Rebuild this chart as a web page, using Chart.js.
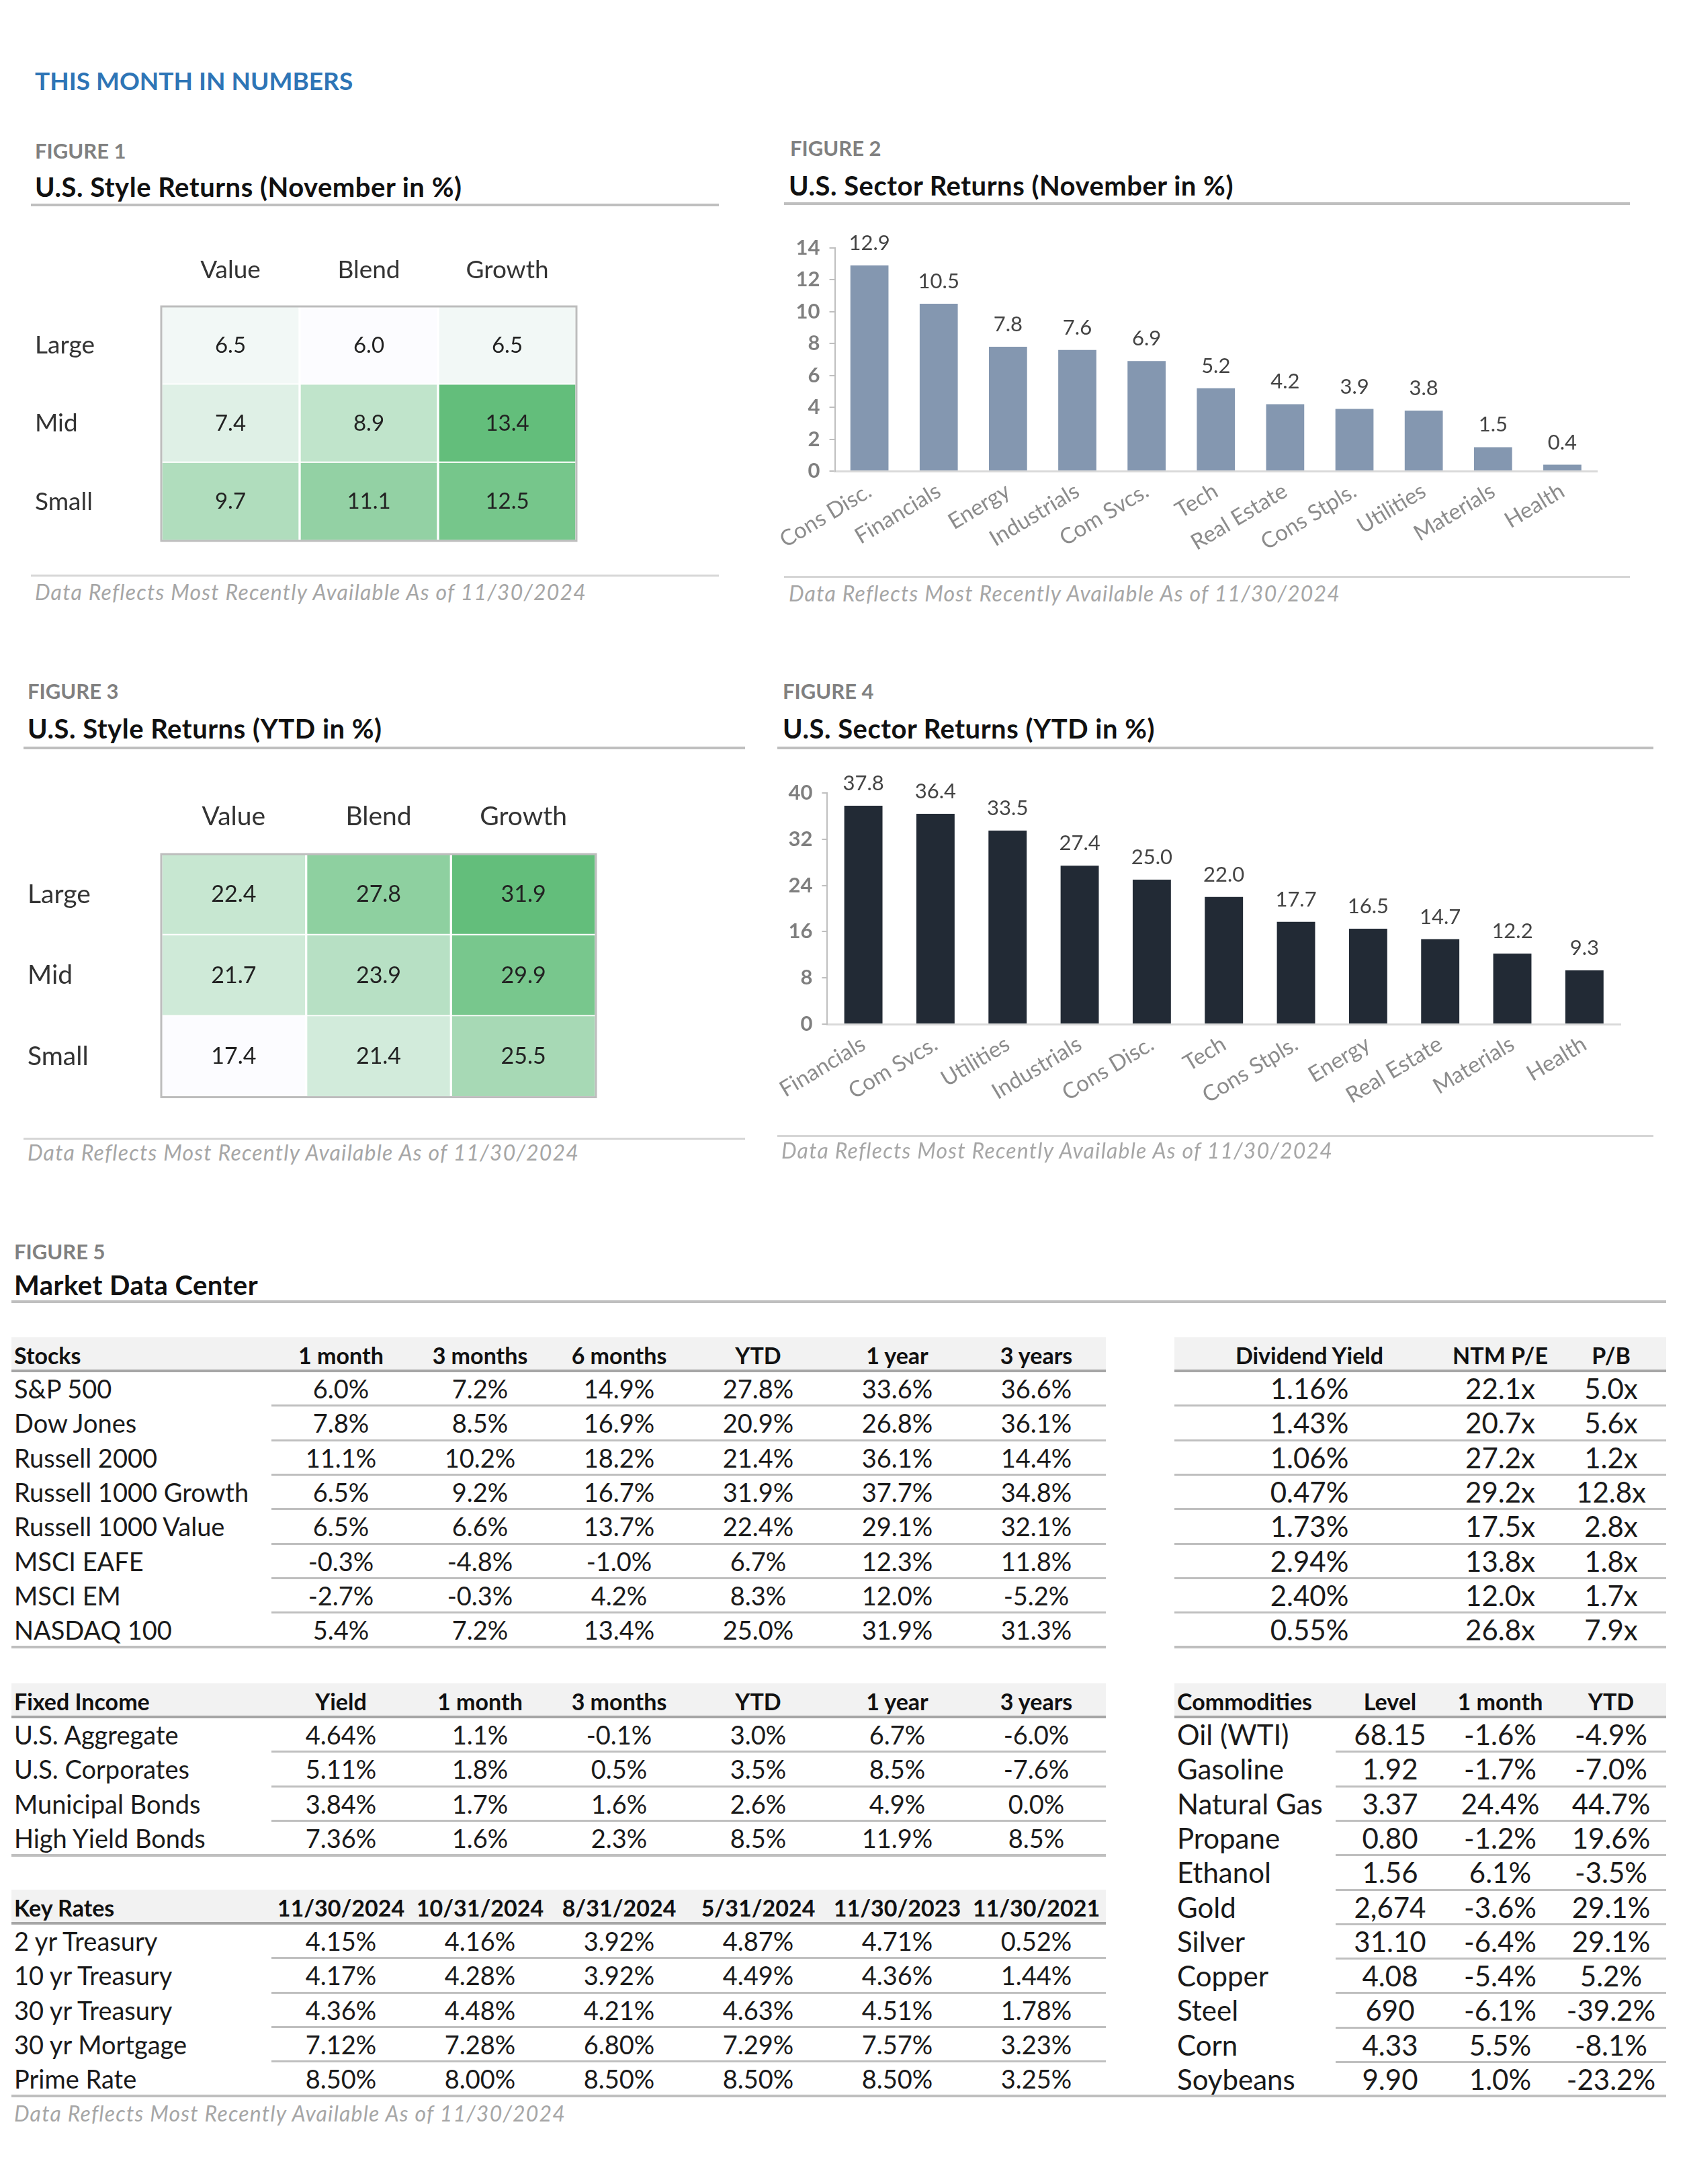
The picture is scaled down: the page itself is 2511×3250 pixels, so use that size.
<!DOCTYPE html>
<html>
<head>
<meta charset="utf-8">
<script src="https://cdn.jsdelivr.net/npm/chart.js@4.4.1/dist/chart.umd.min.js"></script>
<style>
body{margin:0;width:2511px;height:3250px;background:#fff;position:relative;font-family:Lato,"Open Sans",sans-serif;color:#1a1a1a;overflow:hidden}
.abs{position:absolute;white-space:nowrap}
.main{left:52px;top:101px;font-size:37px;line-height:38px;font-weight:bold;color:#2e75b6}
.fig{font-size:31px;line-height:32px;font-weight:bold;color:#808080}
.ttl{font-size:40px;line-height:40px;font-weight:bold;color:#111;letter-spacing:0.5px}
.rule{height:4px;background:#bfbfbf}
.thin{height:3px;background:#d6d6d6}
.note{font-size:32px;line-height:32px;font-style:italic;color:#a6a6a6;letter-spacing:1.2px}
.cell{position:absolute;white-space:nowrap;font-size:38px;color:#1a1a1a}
.big{font-size:42px}
.hd{font-weight:bold;font-size:34px;color:#111}
canvas{position:absolute}
</style>
</head>
<body>
<div class="abs main">THIS MONTH IN NUMBERS</div>

<div class="abs fig" style="left:52px;top:208px">FIGURE 1</div>
<div class="abs ttl" style="left:52px;top:258px">U.S. Style Returns (November in %)</div>
<div class="abs rule" style="left:46px;top:303px;width:1024px"></div>
<canvas id="fig1" width="830" height="470" style="left:40px;top:360px"></canvas>
<div class="abs thin" style="left:46px;top:855px;width:1024px"></div>
<div class="abs note" style="left:52px;top:865px">Data Reflects Most Recently Available As of 11/30/2024</div>

<div class="abs fig" style="left:1176px;top:204px">FIGURE 2</div>
<div class="abs ttl" style="left:1174px;top:256px">U.S. Sector Returns (November in %)</div>
<div class="abs rule" style="left:1167px;top:301px;width:1259px"></div>
<canvas id="fig2" width="1250" height="530" style="left:1150px;top:330px"></canvas>
<div class="abs thin" style="left:1167px;top:857px;width:1259px"></div>
<div class="abs note" style="left:1174px;top:867px">Data Reflects Most Recently Available As of 11/30/2024</div>

<div class="abs fig" style="left:41px;top:1012px">FIGURE 3</div>
<div class="abs ttl" style="left:41px;top:1064px">U.S. Style Returns (YTD in %)</div>
<div class="abs rule" style="left:35px;top:1111px;width:1074px"></div>
<canvas id="fig3" width="870" height="489" style="left:30px;top:1170px"></canvas>
<div class="abs thin" style="left:35px;top:1693px;width:1074px"></div>
<div class="abs note" style="left:41px;top:1699px">Data Reflects Most Recently Available As of 11/30/2024</div>

<div class="abs fig" style="left:1165px;top:1012px">FIGURE 4</div>
<div class="abs ttl" style="left:1165px;top:1064px">U.S. Sector Returns (YTD in %)</div>
<div class="abs rule" style="left:1157px;top:1111px;width:1304px"></div>
<canvas id="fig4" width="1280" height="570" style="left:1150px;top:1130px"></canvas>
<div class="abs thin" style="left:1157px;top:1689px;width:1304px"></div>
<div class="abs note" style="left:1163px;top:1696px">Data Reflects Most Recently Available As of 11/30/2024</div>

<div class="abs fig" style="left:21px;top:1846px">FIGURE 5</div>
<div class="abs ttl" style="left:21px;top:1892px">Market Data Center</div>
<div class="abs rule" style="left:17px;top:1935px;width:2463px"></div>
<div id="tables"></div>
<div class="abs note" style="left:21px;top:3129px">Data Reflects Most Recently Available As of 11/30/2024</div>

<script>
// ---- data ----
const styleCols = ['Value', 'Blend', 'Growth']
const styleRows = ['Large', 'Mid', 'Small']
const styleNov = [[6.5, 6.0, 6.5], [7.4, 8.9, 13.4], [9.7, 11.1, 12.5]]
const styleYtd = [[22.4, 27.8, 31.9], [21.7, 23.9, 29.9], [17.4, 21.4, 25.5]]

const sectorNovLabels = ['Cons Disc.', 'Financials', 'Energy', 'Industrials', 'Com Svcs.', 'Tech', 'Real Estate', 'Cons Stpls.', 'Utilities', 'Materials', 'Health']
const sectorNov = [12.9, 10.5, 7.8, 7.6, 6.9, 5.2, 4.2, 3.9, 3.8, 1.5, 0.4]
const sectorYtdLabels = ['Financials', 'Com Svcs.', 'Utilities', 'Industrials', 'Cons Disc.', 'Tech', 'Cons Stpls.', 'Energy', 'Real Estate', 'Materials', 'Health']
const sectorYtd = [37.8, 36.4, 33.5, 27.4, 25.0, 22.0, 17.7, 16.5, 14.7, 12.2, 9.3]

const stockHead = ['Stocks', '1 month', '3 months', '6 months', 'YTD', '1 year', '3 years']
const stockRows = [
  ['S&P 500', '6.0%', '7.2%', '14.9%', '27.8%', '33.6%', '36.6%'],
  ['Dow Jones', '7.8%', '8.5%', '16.9%', '20.9%', '26.8%', '36.1%'],
  ['Russell 2000', '11.1%', '10.2%', '18.2%', '21.4%', '36.1%', '14.4%'],
  ['Russell 1000 Growth', '6.5%', '9.2%', '16.7%', '31.9%', '37.7%', '34.8%'],
  ['Russell 1000 Value', '6.5%', '6.6%', '13.7%', '22.4%', '29.1%', '32.1%'],
  ['MSCI EAFE', '-0.3%', '-4.8%', '-1.0%', '6.7%', '12.3%', '11.8%'],
  ['MSCI EM', '-2.7%', '-0.3%', '4.2%', '8.3%', '12.0%', '-5.2%'],
  ['NASDAQ 100', '5.4%', '7.2%', '13.4%', '25.0%', '31.9%', '31.3%']
]
const valuationHead = ['Dividend Yield', 'NTM P/E', 'P/B']
const valuationRows = [
  ['1.16%', '22.1x', '5.0x'], ['1.43%', '20.7x', '5.6x'], ['1.06%', '27.2x', '1.2x'], ['0.47%', '29.2x', '12.8x'],
  ['1.73%', '17.5x', '2.8x'], ['2.94%', '13.8x', '1.8x'], ['2.40%', '12.0x', '1.7x'], ['0.55%', '26.8x', '7.9x']
]
const fixedHead = ['Fixed Income', 'Yield', '1 month', '3 months', 'YTD', '1 year', '3 years']
const fixedRows = [
  ['U.S. Aggregate', '4.64%', '1.1%', '-0.1%', '3.0%', '6.7%', '-6.0%'],
  ['U.S. Corporates', '5.11%', '1.8%', '0.5%', '3.5%', '8.5%', '-7.6%'],
  ['Municipal Bonds', '3.84%', '1.7%', '1.6%', '2.6%', '4.9%', '0.0%'],
  ['High Yield Bonds', '7.36%', '1.6%', '2.3%', '8.5%', '11.9%', '8.5%']
]
const rateHead = ['Key Rates', '11/30/2024', '10/31/2024', '8/31/2024', '5/31/2024', '11/30/2023', '11/30/2021']
const rateRows = [
  ['2 yr Treasury', '4.15%', '4.16%', '3.92%', '4.87%', '4.71%', '0.52%'],
  ['10 yr Treasury', '4.17%', '4.28%', '3.92%', '4.49%', '4.36%', '1.44%'],
  ['30 yr Treasury', '4.36%', '4.48%', '4.21%', '4.63%', '4.51%', '1.78%'],
  ['30 yr Mortgage', '7.12%', '7.28%', '6.80%', '7.29%', '7.57%', '3.23%'],
  ['Prime Rate', '8.50%', '8.00%', '8.50%', '8.50%', '8.50%', '3.25%']
]
const commodHead = ['Commodities', 'Level', '1 month', 'YTD']
const commodRows = [
  ['Oil (WTI)', '68.15', '-1.6%', '-4.9%'], ['Gasoline', '1.92', '-1.7%', '-7.0%'], ['Natural Gas', '3.37', '24.4%', '44.7%'],
  ['Propane', '0.80', '-1.2%', '19.6%'], ['Ethanol', '1.56', '6.1%', '-3.5%'], ['Gold', '2,674', '-3.6%', '29.1%'],
  ['Silver', '31.10', '-6.4%', '29.1%'], ['Copper', '4.08', '-5.4%', '5.2%'], ['Steel', '690', '-6.1%', '-39.2%'],
  ['Corn', '4.33', '5.5%', '-8.1%'], ['Soybeans', '9.90', '1.0%', '-23.2%']
]

// ---- charts ----
const FONT = 'Lato, "Open Sans", sans-serif'

function greenScale(v, lo, hi){
  const t = (v - lo) / (hi - lo)
  const a = [252, 252, 255], b = [99, 190, 123]
  const c = a.map((x, i) => Math.round(x + (b[i] - x) * t))
  return 'rgb(' + c.join(',') + ')'
}

// draws the value text in each cell (heatmaps) or above each bar
const cellText = {
  id: 'cellText',
  afterDatasetsDraw(chart, args, o){
    const ctx = chart.ctx
    ctx.save()
    ctx.font = o.size + 'px ' + FONT
    ctx.fillStyle = o.color
    ctx.textAlign = 'center'
    ctx.textBaseline = 'middle'
    chart.data.datasets.forEach((ds, i) => {
      chart.getDatasetMeta(i).data.forEach((el, j) => {
        let y
        if (o.mode === 'cell') y = (el.y + el.base) / 2
        else y = el.y - o.gap
        ctx.fillText(ds.labelsText[j], el.x, y)
      })
    })
    if (o.mode === 'cell') {
      const a = chart.chartArea
      ctx.strokeStyle = '#bdbdbd'
      ctx.lineWidth = 3
      ctx.strokeRect(a.left, a.top, a.right - a.left, a.bottom - a.top)
    }
    ctx.restore()
  }
}

function heatMap(id, values, pad, axisFont, valFont){
  let all = values.flat()
  let lo = Math.min(...all), hi = Math.max(...all)
  new Chart(document.getElementById(id), {
    type: 'bar',
    data: {
      labels: styleCols,
      datasets: styleRows.map((r, i) => ({
        label: r,
        data: styleCols.map(() => 1),
        labelsText: values[i].map(v => v.toFixed(1)),
        backgroundColor: values[i].map(v => greenScale(v, lo, hi)),
        borderColor: '#ffffff',
        borderWidth: 2,
        barPercentage: 1,
        categoryPercentage: 1
      }))
    },
    options: {
      responsive: false,
      animation: false,
      layout: { padding: pad },
      plugins: { legend: { display: false }, tooltip: { enabled: false }, cellText: { mode: 'cell', size: valFont, color: '#222' } },
      scales: {
        x: {
          position: 'top', stacked: true,
          grid: { display: false, drawTicks: false }, border: { display: false },
          ticks: { font: { size: axisFont, family: FONT }, color: '#333', padding: 32 },
          afterFit: s => { s.height = pad.axisH }
        },
        y: {
          stacked: true, reverse: true, min: 0, max: 3,
          grid: { display: false, drawTicks: false }, border: { display: false },
          afterBuildTicks: s => { s.ticks = [{ value: 0.5 }, { value: 1.5 }, { value: 2.5 }] },
          ticks: { font: { size: axisFont, family: FONT }, color: '#333', crossAlign: 'far', callback: v => styleRows[Math.floor(v)] },
          afterFit: s => { s.width = pad.axisW }
        }
      }
    },
    plugins: [cellText]
  })
}

function sectorBars(id, labels, values, color, max, step, pad, yW, xH, barPct){
  new Chart(document.getElementById(id), {
    type: 'bar',
    data: {
      labels: labels,
      datasets: [{
        data: values,
        labelsText: values.map(v => v.toFixed(1)),
        backgroundColor: color,
        barPercentage: barPct,
        categoryPercentage: 1
      }]
    },
    options: {
      responsive: false,
      animation: false,
      layout: { padding: pad },
      plugins: { legend: { display: false }, tooltip: { enabled: false }, cellText: { mode: 'top', size: 31, color: '#444', gap: 33 } },
      scales: {
        x: {
          grid: { display: false, drawTicks: false },
          border: { color: '#d9d9d9', width: 3 },
          ticks: { font: { size: 33, family: FONT }, color: '#8c8c8c', minRotation: 31, maxRotation: 31, padding: 10 },
          afterFit: s => { s.height = xH }
        },
        y: {
          min: 0, max: max,
          grid: { display: true, drawOnChartArea: false, tickLength: 8, color: '#bfbfbf', lineWidth: 2 },
          border: { color: '#bfbfbf', width: 2 },
          ticks: { stepSize: step, font: { size: 31, family: FONT, weight: 'bold' }, color: '#7f7f7f', padding: 14 },
          afterFit: s => { s.width = yW }
        }
      }
    },
    plugins: [cellText]
  })
}

heatMap('fig1', styleNov, { left: 12, top: 0, right: 12, bottom: 17, axisH: 96, axisW: 188 }, 37, 33)
heatMap('fig3', styleYtd, { left: 11, top: 0, right: 13, bottom: 15, axisH: 101, axisW: 199 }, 39, 34)
sectorBars('fig2', sectorNovLabels, sectorNov, '#8497b0', 14, 2, { left: 0, top: 39, right: 23, bottom: 0 }, 82, 159, 0.55)
sectorBars('fig4', sectorYtdLabels, sectorYtd, '#222a35', 40, 8, { left: 0, top: 50, right: 18, bottom: 0 }, 76, 176, 0.53)

// ---- tables ----
const wrap = document.getElementById('tables')
function box(l, t, w, h, bg){
  const d = document.createElement('div')
  d.className = 'abs'
  d.style.cssText += `left:${l}px;top:${t}px;width:${w}px;height:${h}px;background:${bg}`
  wrap.appendChild(d)
}
function txt(s, l, t, w, h, align, cls){
  const d = document.createElement('div')
  d.className = 'cell' + (cls ? ' ' + cls : '')
  d.textContent = s
  d.style.cssText += `left:${l}px;top:${t}px;width:${w}px;height:${h}px;line-height:${h}px;text-align:${align}`
  wrap.appendChild(d)
}
function table(left, top, widths, head, rows, opt){
  const total = widths.reduce((a, b) => a + b, 0)
  const hh = 50, rh = 51.3
  box(left, top, total, hh, '#f2f2f2')
  let x = left
  head.forEach((h, i) => {
    const first = i === 0 && opt.firstLeft
    txt(h, first ? x + 4 : x, top + 2, widths[i], hh, first ? 'left' : 'center', 'hd')
    x += widths[i]
  })
  box(left, top + hh - 2, total, 4, '#a6a6a6')
  rows.forEach((r, ri) => {
    const y = top + hh + ri * rh
    let cx = left
    r.forEach((c, i) => {
      const first = i === 0 && opt.firstLeft
      txt(c, first ? cx + 4 : cx, y + 1, widths[i], rh, first ? 'left' : 'center', opt.cls)
      cx += widths[i]
    })
    if (ri < rows.length - 1) {
      const ls = opt.lineFrom != null ? opt.lineFrom : left
      box(ls, y + rh - 1, left + total - ls, 3, '#bfbfbf')
    }
  })
  if (opt.bottom) box(left, top + hh + rows.length * rh - 1, total, 4, '#bfbfbf')
}
const wide = [387, 207, 207, 207, 207, 207, 207]
table(17, 1990, wide, stockHead, stockRows, { firstLeft: true, lineFrom: 404, bottom: true })
table(1748, 1990, [402, 166, 164], valuationHead, valuationRows, { firstLeft: false, bottom: true, cls: 'big' })
table(17, 2505, wide, fixedHead, fixedRows, { firstLeft: true, lineFrom: 404, bottom: true })
table(17, 2812, wide, rateHead, rateRows, { firstLeft: true, lineFrom: 404, bottom: false })
table(1748, 2505, [240, 162, 166, 164], commodHead, commodRows, { firstLeft: true, lineFrom: 1988, bottom: false, cls: 'big' })
box(17, 3117, 2463, 4, '#bfbfbf')
</script>
</body>
</html>
